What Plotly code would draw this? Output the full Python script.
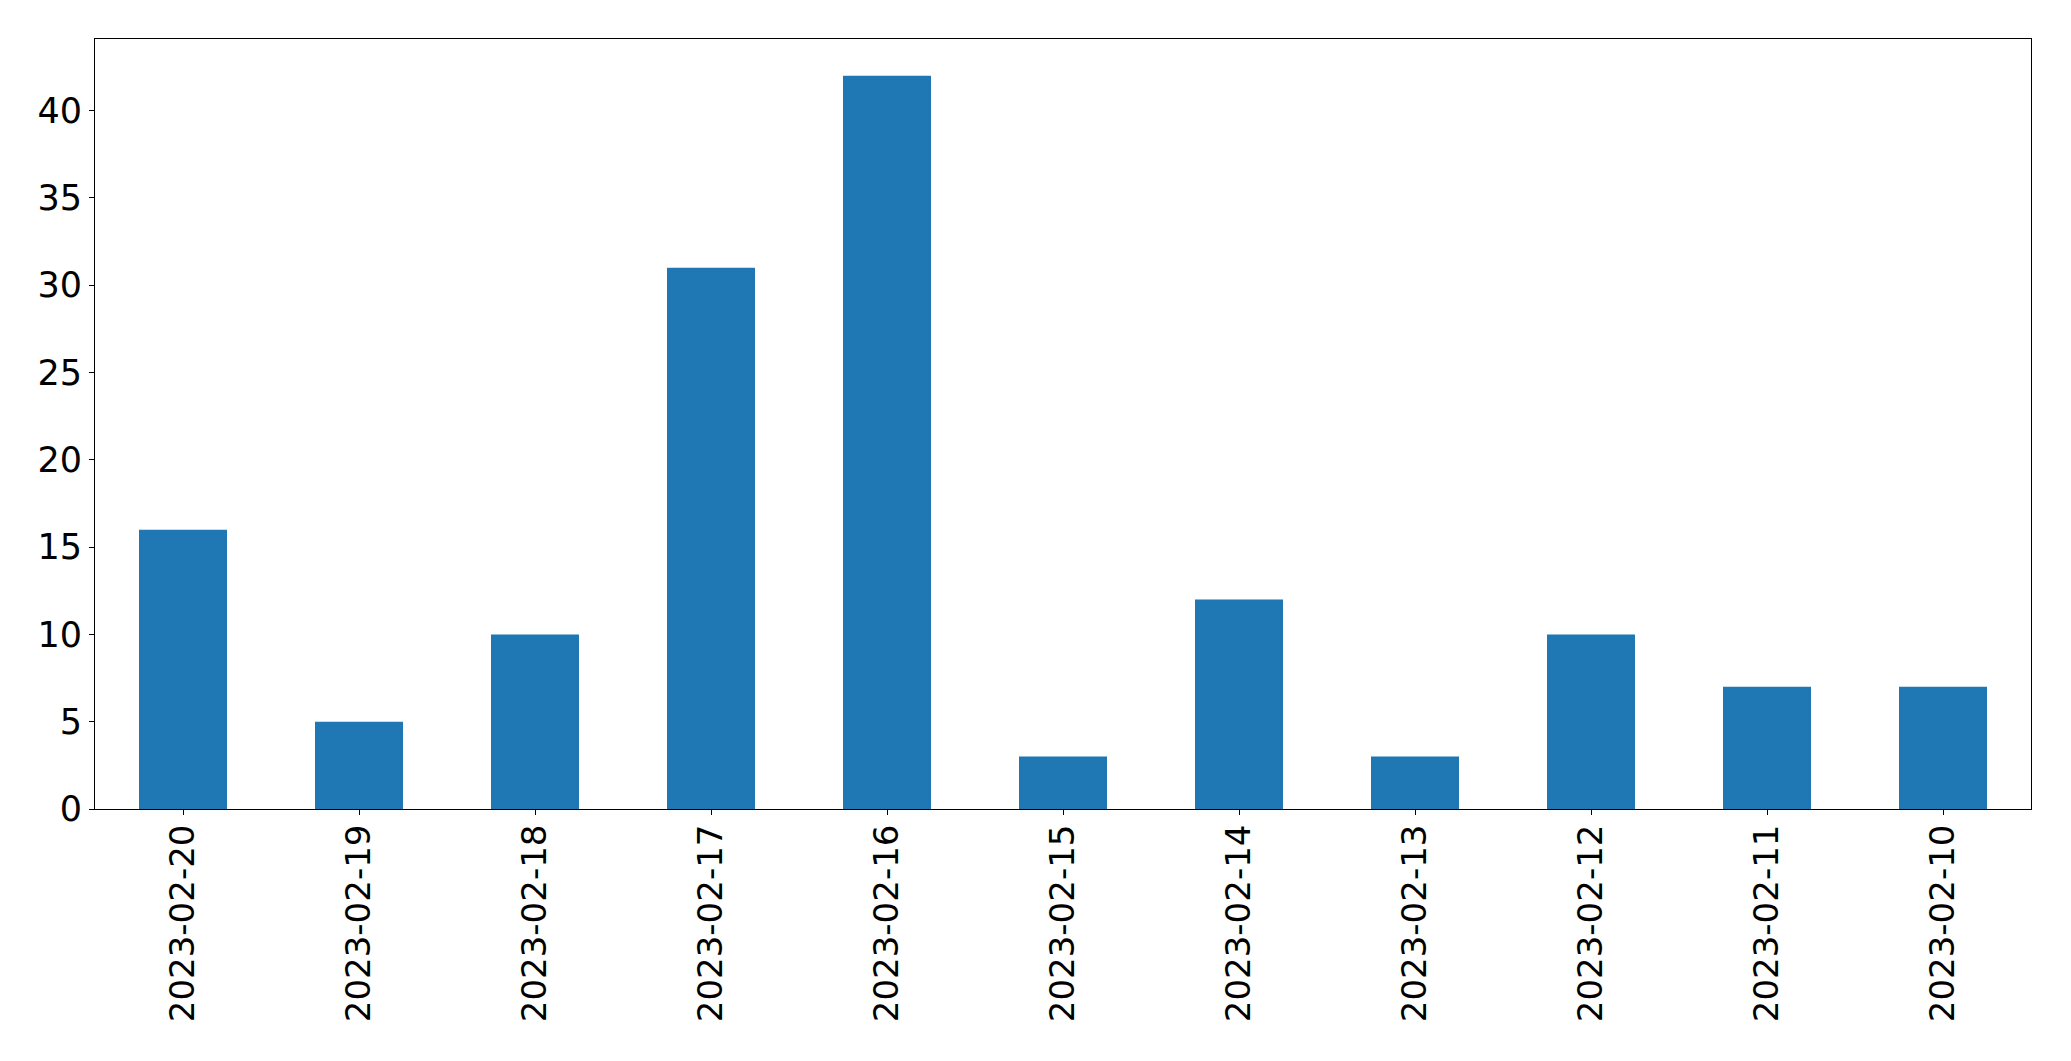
import plotly.graph_objects as go

dates = ["2023-02-20", "2023-02-19", "2023-02-18", "2023-02-17", "2023-02-16",
         "2023-02-15", "2023-02-14", "2023-02-13", "2023-02-12", "2023-02-11", "2023-02-10"]
counts = [16, 5, 10, 31, 42, 3, 12, 3, 10, 7, 7]
y_ticks = [0, 5, 10, 15, 20, 25, 30, 35, 40]

fig = go.Figure(go.Bar(x=dates, y=counts, marker_color="#1f77b4", marker_line_width=0, width=0.5))

font = dict(family="DejaVu Sans", size=34, color="black")
fig.update_layout(
    width=2071, height=1061,
    margin=dict(l=87, r=48, t=31, b=260),
    plot_bgcolor="white", paper_bgcolor="white",
    showlegend=False,
    font=font,
)
fig.update_xaxes(type="category", range=[-0.5, 10.5], tickangle=-90, automargin=False,
                 showline=True, mirror=True, linecolor="black", linewidth=1,
                 ticks="outside", ticklen=5, tickcolor="black", showgrid=False,
                 ticklabelstandoff=-4, tickfont=font)
fig.update_yaxes(range=[0, 44.1], tickvals=y_ticks, automargin=False,
                 showline=True, mirror=True, linecolor="black", linewidth=1,
                 ticks="outside", ticklen=5, tickcolor="black", showgrid=False,
                 zeroline=False, tickfont=dict(family="DejaVu Sans", size=35, color="black"))

fig.write_html("out.html")
